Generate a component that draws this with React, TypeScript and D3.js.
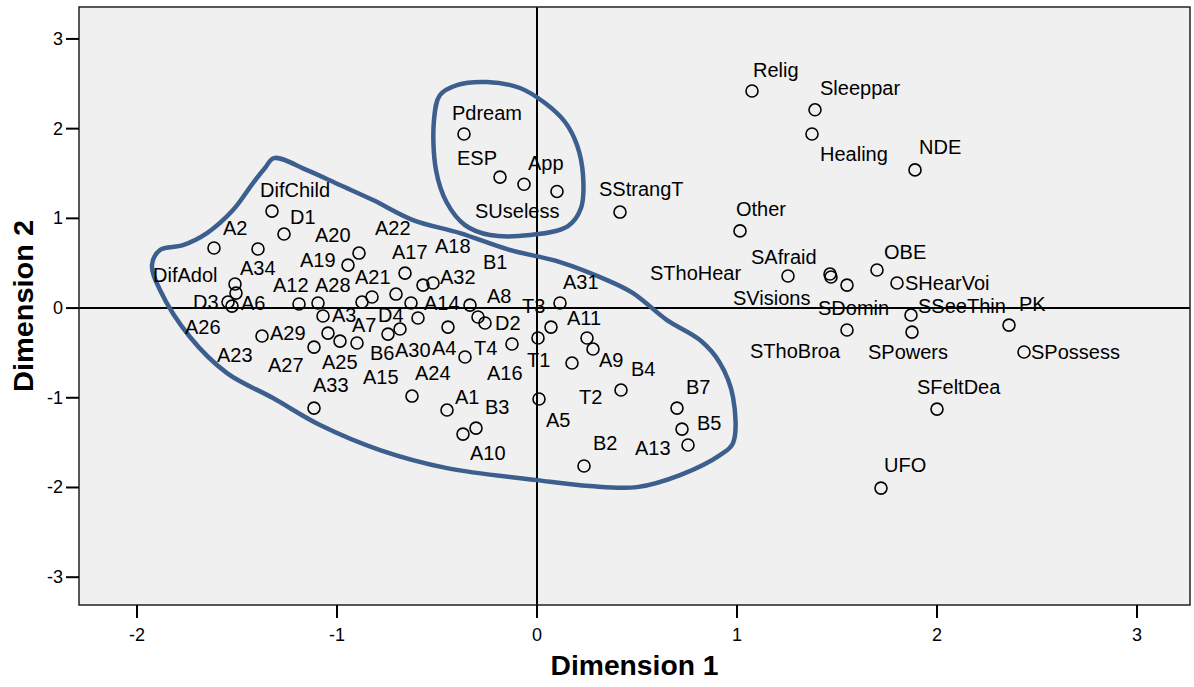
import React from 'react';
import * as d3 from 'd3';

// object scores, dimension 1 / dimension 2
const names = [
  'Relig', 'Sleeppar', 'Healing', 'NDE', 'Other', 'SStrangT', 'SThoHear', 'SAfraid', 'SVisions', 'SDomin',
  'OBE', 'SHearVoi', 'SSeeThin', 'PK', 'SPowers', 'SThoBroa', 'SPossess', 'SFeltDea', 'UFO',
  'Pdream', 'ESP', 'App', 'SUseless',
  'DifChild', 'D1', 'A2', 'A34', 'A22', 'A20', 'A17', 'A18', 'A32', 'DifAdol',
  'A26', 'D3', 'A6', 'A12', 'A28', 'A3', 'D4', 'A21', 'A19', 'A14',
  'B1', 'A31', 'A8', 'D2', 'A15', 'A4', 'B6', 'A30', 'A7', 'A29',
  'A23', 'A25', 'A27', 'T4', 'A16', 'T3', 'T1', 'A11', 'A9', 'T2',
  'A24', 'A1', 'B3', 'A10', 'A5', 'B4', 'B7', 'B5', 'A13', 'B2', 'A33',
];
const dim1 = [
  1.075, 1.39, 1.375, 1.89, 1.015, 0.415, 1.255, 1.465, 1.47, 1.55,
  1.7, 1.8, 1.87, 2.36, 1.875, 1.55, 2.435, 2.0, 1.72,
  -0.365, -0.185, -0.065, 0.1,
  -1.325, -1.265, -1.615, -1.395, -0.89, -0.945, -0.66, -0.57, -0.52, -1.51,
  -1.505, -1.545, -1.525, -1.19, -1.095, -1.07, -0.875, -0.825, -0.705, -0.63,
  -0.335, 0.115, -0.295, -0.26, -0.595, -0.445, -0.745, -0.685, -0.9, -1.375,
  -1.045, -0.985, -1.115, -0.36, -0.125, 0.07, 0.005, 0.25, 0.28, 0.175,
  -0.625, -0.45, -0.305, -0.37, 0.01, 0.42, 0.7, 0.725, 0.755, 0.235, -1.115,
];
const dim2 = [
  2.42, 2.21, 1.94, 1.54, 0.86, 1.07, 0.357, 0.379, 0.346, 0.256,
  0.424, 0.279, -0.078, -0.19, -0.268, -0.245, -0.49, -1.126, -2.007,
  1.94, 1.46, 1.38, 1.3,
  1.081, 0.825, 0.669, 0.658, 0.613, 0.479, 0.39, 0.256, 0.279, 0.268,
  0.167, 0.067, 0.022, 0.045, 0.056, -0.089, 0.067, 0.123, 0.156, 0.056,
  0.033, 0.056, -0.1, -0.167, -0.111, -0.212, -0.29, -0.234, -0.39, -0.312,
  -0.279, -0.368, -0.435, -0.546, -0.401, -0.212, -0.334, -0.334, -0.457, -0.613,
  -0.981, -1.137, -1.338, -1.405, -1.014, -0.914, -1.115, -1.349, -1.527, -1.761, -1.115,
];

// hand drawn group outlines (dimension 1, dimension 2)
const bigGroup = [
  [-1.315, 1.672], [-1.15, 1.538], [-0.985, 1.371], [-0.82, 1.204], [-0.62, 0.981], [-0.385, 0.836],
  [-0.135, 0.647], [0.115, 0.513], [0.35, 0.312], [0.48, 0.167], [0.65, -0.134], [0.815, -0.357],
  [0.915, -0.613], [0.98, -0.992], [0.98, -1.505], [0.915, -1.639], [0.715, -1.862], [0.5, -1.996],
  [0.265, -1.984], [0.0, -1.918], [-0.45, -1.784], [-0.785, -1.583], [-1.085, -1.304], [-1.32, -1.003],
  [-1.55, -0.725], [-1.735, -0.323], [-1.885, 0.201], [-1.925, 0.479], [-1.885, 0.647], [-1.77, 0.702],
  [-1.65, 0.836], [-1.52, 1.093], [-1.42, 1.394], [-1.36, 1.561],
];
const smallGroup = [
  [-0.4, 2.486], [-0.25, 2.52], [-0.085, 2.453], [0.04, 2.285], [0.14, 2.074], [0.2, 1.817],
  [0.23, 1.483], [0.22, 1.115], [0.155, 0.914], [-0.035, 0.814], [-0.235, 0.814], [-0.36, 0.925],
  [-0.45, 1.171], [-0.505, 1.538], [-0.515, 2.096], [-0.485, 2.375],
];

const xTicks = [-2, -1, 0, 1, 2, 3];
const yTicks = [-3, -2, -1, 0, 1, 2, 3];

// label placement, pixels from the point (left edge, middle)
const labelAt: Record<string, [number, number]> = {
  Relig: [1, -21], Sleeppar: [5, -22], Healing: [8, 20], NDE: [4, -23], Other: [-4, -22],
  SStrangT: [-21, -23], SThoHear: [-138, -3], SAfraid: [-79, -17], SVisions: [-98, 21], SDomin: [-29, 23],
  OBE: [7, -18], SHearVoi: [8, 0], SSeeThin: [7, -9], PK: [10, -21], SPowers: [-44, 20],
  SThoBroa: [-97, 21], SPossess: [7, 0], SFeltDea: [-20, -22], UFO: [3, -23],
  Pdream: [-12, -21], ESP: [-43, -19], App: [4, -21], SUseless: [-82, 20],
  DifChild: [-12, -21], D1: [6, -17], A2: [9, -20], A34: [-18, 19], A22: [16, -25], A20: [-33, -30],
  A17: [-13, -21], A18: [12, -39], A32: [7, -6], DifAdol: [-82, -9], A26: [-51, 34], D3: [-35, 0],
  A6: [9, -3], A12: [-26, -19], A28: [-3, -18], A3: [9, -1], D4: [16, 13], A21: [-17, -20],
  A19: [-96, -34], A14: [13, 0], B1: [13, -43], A31: [3, -21], A8: [9, -21], D2: [10, 0],
  A15: [-55, 59], A4: [-16, 21], B6: [-18, 19], A30: [-5, 21], A7: [-5, -18], A29: [8, -3],
  A23: [-111, 22], A25: [-18, 21], A27: [-46, 18], T4: [9, -9], A16: [-25, 29], T3: [-29, -21],
  T1: [-11, 22], A11: [-20, -20], A9: [6, 11], T2: [7, 34], A24: [3, -23], A1: [8, -13],
  B3: [9, -21], A10: [7, 19], A5: [7, 21], B4: [10, -21], B7: [9, -21], B5: [15, -6],
  A13: [-53, 3], B2: [9, -23], A33: [-1, -23],
};

const W = 1194, H = 687;
const left = 79, right = 1190, top = 7, bottom = 605;
const font = '"Liberation Sans", Arial, sans-serif';

export default function App() {
  const x = d3.scaleLinear().domain([-2.29, 3.265]).range([left, right]);
  const y = d3.scaleLinear().domain([-3.31, 3.356]).range([bottom, top]);

  const outline = d3.line<number[]>()
    .x(d => x(d[0]))
    .y(d => y(d[1]))
    .curve(d3.curveCatmullRomClosed.alpha(0.5));

  const points = names.map((n, i) => ({ name: n, cx: x(dim1[i]), cy: y(dim2[i]) }));

  return (
    <div style={{ position: 'absolute', left: 0, top: 0 }}>
      <svg width={W} height={H} style={{ display: 'block', background: '#fff' }} fontFamily={font}>
        <rect x={left} y={top} width={right - left} height={bottom - top} fill="#f0f0f0" />

        {/* reference lines through the origin */}
        <line x1={x(0)} x2={x(0)} y1={top} y2={bottom} stroke="#000" strokeWidth={2} />
        <line x1={left} x2={right} y1={y(0)} y2={y(0)} stroke="#000" strokeWidth={2} />

        <path d={outline(bigGroup) || ''} fill="none" stroke="#3c5f8e" strokeWidth={4.5} strokeLinejoin="round" />
        <path d={outline(smallGroup) || ''} fill="none" stroke="#3c5f8e" strokeWidth={4.5} strokeLinejoin="round" />

        {points.map(p => (
          <circle key={p.name} cx={p.cx} cy={p.cy} r={6} fill="none" stroke="#000" strokeWidth={1.6} />
        ))}
        {points.map(p => {
          const off = labelAt[p.name] || [6, -18];
          return (
            <text key={'t' + p.name} x={p.cx + off[0]} y={p.cy + off[1]} dominantBaseline="central"
              fontSize={20} fill="#000">{p.name}</text>
          );
        })}

        <rect x={left} y={top} width={right - left} height={bottom - top} fill="none" stroke="#222" strokeWidth={1.5} />

        {/* axes */}
        {xTicks.map(t => (
          <g key={'x' + t}>
            <line x1={x(t)} x2={x(t)} y1={bottom} y2={bottom + 13} stroke="#000" strokeWidth={2} />
            <text x={x(t)} y={bottom + 30} textAnchor="middle" dominantBaseline="central" fontSize={18}>{t}</text>
          </g>
        ))}
        {yTicks.map(t => (
          <g key={'y' + t}>
            <line x1={left - 13} x2={left} y1={y(t)} y2={y(t)} stroke="#000" strokeWidth={2} />
            <text x={left - 16} y={y(t)} textAnchor="end" dominantBaseline="central" fontSize={18}>{t}</text>
          </g>
        ))}

        <text x={(left + right) / 2} y={666} textAnchor="middle" dominantBaseline="central"
          fontSize={27} fontWeight="bold" textLength={168} lengthAdjust="spacingAndGlyphs">Dimension 1</text>
        <text transform={`translate(24,${(top + bottom) / 2}) rotate(-90)`} textAnchor="middle" dominantBaseline="central"
          fontSize={27} fontWeight="bold" textLength={172} lengthAdjust="spacingAndGlyphs">Dimension 2</text>
      </svg>
    </div>
  );
}
